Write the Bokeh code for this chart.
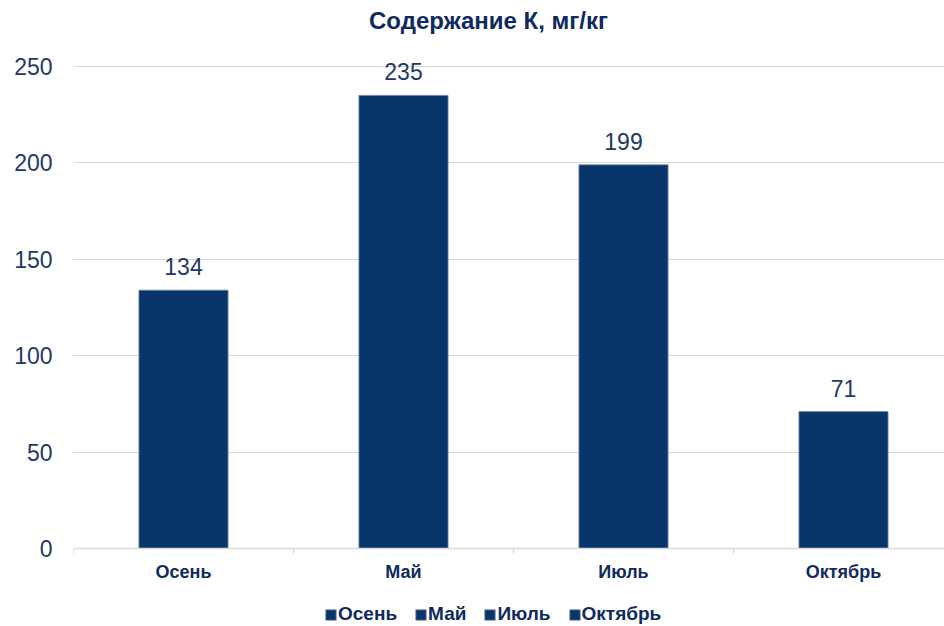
from bokeh.plotting import figure
from bokeh.models import (Range1d, FixedTicker, ColumnDataSource, Label, Legend,
                          LegendItem, LinearAxis, Grid)
from bokeh.core.properties import value
from bokeh.embed import file_html
from bokeh.resources import INLINE

# ---- data ----
categories = ["Осень", "Май", "Июль", "Октябрь"]
k_values = [134, 235, 199, 71]
y_ticks = [0, 50, 100, 150, 200, 250]
title_text = "Содержание К, мг/кг"

# ---- style ----
FONT = "Liberation Sans"
BAR = "#08356A"
BAR_EDGE = "#6F88AC"
TXT = "#1F3864"
TXT_DARK = "#0E2A5E"
GRID = "#D9D9D9"

W, H = 944, 626
left, right = 73, 0
zero_px, top_px = 548, 66
cat_px = 220.0
px_per_unit = (zero_px - top_px) / 250.0
y_start = -(H - zero_px) / px_per_unit
y_end = zero_px / px_per_unit
x_end = (W - left - right) / cat_px

xs = [i + 0.5 for i in range(len(categories))]
src = ColumnDataSource(dict(x=xs, top=k_values, cat=categories,
                            lab=[str(v) for v in k_values]))

p = figure(width=W, height=H, output_backend="svg", toolbar_location=None,
           x_range=Range1d(0, x_end), y_range=Range1d(y_start, y_end),
           min_border_left=left, min_border_right=right,
           min_border_top=0, min_border_bottom=0, x_axis_location=None)
p.outline_line_color = None
p.background_fill_color = "white"
p.border_fill_color = "white"

for g in p.select(type=Grid):
    if g.dimension == 0:
        g.visible = False
    else:
        g.ticker = FixedTicker(ticks=y_ticks)
        g.grid_line_color = GRID
        g.grid_line_width = 1

r = p.vbar(x="x", top="top", bottom=0, width=0.405, source=src, fill_color=BAR,
           line_color=BAR_EDGE, line_width=0.8)

p.text(x="x", y="top", text="lab", source=src, text_align="center",
       text_baseline="bottom", y_offset=-15, text_font=value(FONT),
       text_font_size="23px", text_color=TXT)

# y axis
p.yaxis.ticker = FixedTicker(ticks=y_ticks)
p.yaxis.axis_line_color = None
p.yaxis.major_tick_line_color = None
p.yaxis.minor_tick_line_color = None
p.yaxis.major_tick_out = 0
p.yaxis.major_tick_in = 0
p.yaxis.major_label_standoff = 21
p.yaxis.major_label_text_font = FONT
p.yaxis.major_label_text_font_size = "23px"
p.yaxis.major_label_text_color = TXT

# x axis fixed at y = 0
xaxis = LinearAxis(fixed_location=0)
xaxis.ticker = FixedTicker(ticks=xs, minor_ticks=list(range(len(categories) + 1)))
xaxis.major_label_overrides = {x: c for x, c in zip(xs, categories)}
xaxis.axis_line_color = GRID
xaxis.axis_line_width = 1.5
xaxis.major_tick_line_color = None
xaxis.major_tick_out = 0
xaxis.major_tick_in = 0
xaxis.minor_tick_line_color = GRID
xaxis.minor_tick_line_width = 1.5
xaxis.minor_tick_out = 5
xaxis.minor_tick_in = 0
xaxis.major_label_standoff = 8
xaxis.major_label_text_font = FONT
xaxis.major_label_text_font_style = "bold"
xaxis.major_label_text_font_size = "18px"
xaxis.major_label_text_color = TXT_DARK
p.add_layout(xaxis, "below")

# title
title_x = (488 - left) / cat_px
title_y = (zero_px - 20) / px_per_unit
p.add_layout(Label(x=title_x, y=title_y, text=title_text, text_align="center",
                   text_baseline="middle", text_font=FONT, text_font_style="bold",
                   text_font_size="24px", text_color=TXT_DARK))

# legend
items = [LegendItem(label=c, renderers=[r], index=i) for i, c in enumerate(categories)]
legend = Legend(items=items, orientation="horizontal", location=(251, 1),
                glyph_width=13, glyph_height=13, label_standoff=1, spacing=17,
                padding=0, margin=0, border_line_color=None,
                background_fill_alpha=0,
                label_text_font=FONT, label_text_font_style="bold",
                label_text_font_size="19px", label_text_color=TXT_DARK)
p.add_layout(legend, "center")

open("out.html", "w").write(file_html(p, INLINE))
